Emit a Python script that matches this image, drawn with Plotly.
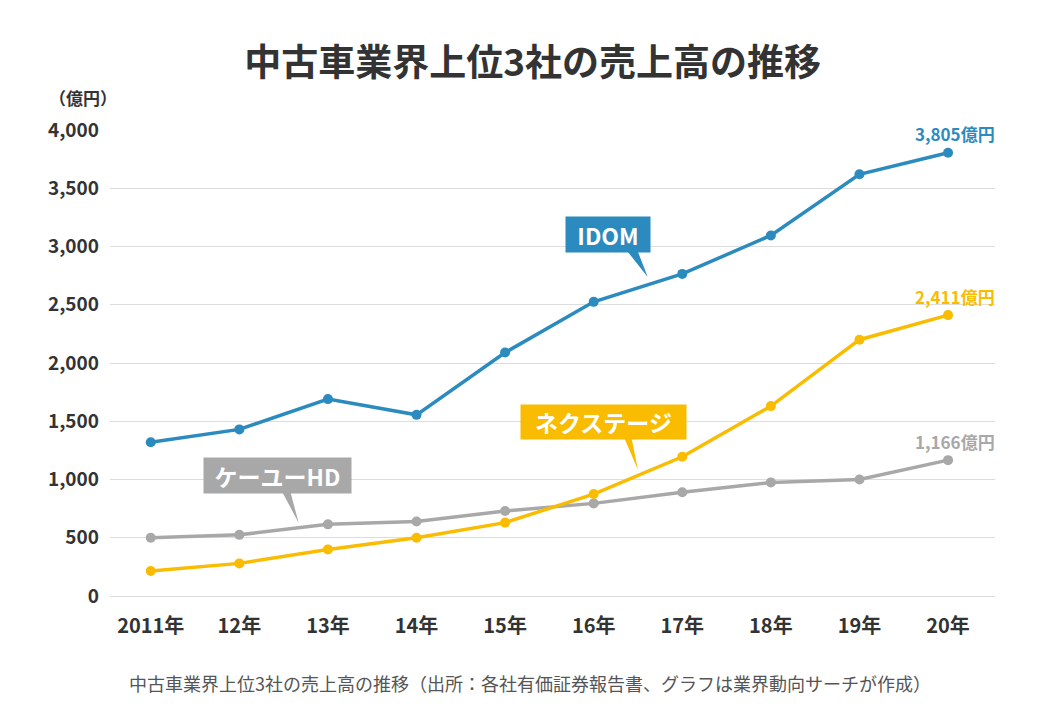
import plotly.graph_objects as go

years = ["2011年", "12年", "13年", "14年", "15年", "16年", "17年", "18年", "19年", "20年"]
idom = [1320, 1430, 1690, 1555, 2090, 2525, 2765, 3095, 3620, 3805]
nextage = [215, 280, 400, 500, 630, 875, 1195, 1630, 2200, 2411]
ku_hd = [500, 525, 615, 640, 730, 795, 890, 975, 1000, 1166]
y_ticks = [0, 500, 1000, 1500, 2000, 2500, 3000, 3500, 4000]
y_tick_labels = ["0", "500", "1,000", "1,500", "2,000", "2,500", "3,000", "3,500", "4,000"]

BLUE = "#2b8bbf"
YELLOW = "#f9bc00"
GRAY = "#a8a8a8"
FONT = "Noto Sans CJK JP, sans-serif"

xs = list(range(len(years)))
fig = go.Figure()
for vals, col, name in [(ku_hd, GRAY, "ケーユーHD"), (nextage, YELLOW, "ネクステージ"), (idom, BLUE, "IDOM")]:
    fig.add_trace(go.Scatter(x=xs, y=vals, mode="lines+markers", name=name,
                             line=dict(color=col, width=3.5),
                             marker=dict(color=col, size=10), showlegend=False,
                             hoverinfo="skip"))

def fmt(v):
    return f"{v:,}億円"

annotations = []
for vals, col in [(idom, BLUE), (nextage, YELLOW), (ku_hd, GRAY)]:
    annotations.append(dict(x=xs[-1], y=vals[-1], xref="x", yref="y", text=f"<b>{fmt(vals[-1])}</b>",
                            showarrow=False, yshift=19, xshift=7,
                            font=dict(family=FONT, size=17, color=col)))

# callout boxes
callouts = [
    ("IDOM", BLUE, 5.16, 3103, 84, 35, [(5.386, 2953), (5.50, 2953), (5.61, 2738)]),
    ("ネクステージ", YELLOW, 5.11, 1494, 165, 34, [(5.35, 1348), (5.43, 1348), (5.50, 1082)]),
    ("ケーユーHD", GRAY, 1.43, 1034, 147, 35, [(1.49, 884), (1.58, 884), (1.67, 627)]),
]
shapes = []
for text, col, cx, cy, w, h, tri in callouts:
    annotations.append(dict(x=cx, y=cy, xref="x", yref="y", text=f"<b>{text}</b>", showarrow=False,
                            bgcolor=col, width=w, height=h, align="center", valign="middle",
                            borderpad=0, font=dict(family=FONT, size=23, color="white")))
    path = f"M {tri[0][0]} {tri[0][1]} L {tri[1][0]} {tri[1][1]} L {tri[2][0]} {tri[2][1]} Z"
    shapes.append(dict(type="path", path=path, xref="x", yref="y", fillcolor=col,
                       line=dict(width=0), layer="above"))

annotations.append(dict(x=-0.031, y=1.0687, xref="paper", yref="paper", text="<b>（億円）</b>", showarrow=False,
                        xanchor="center", yanchor="middle",
                        font=dict(family=FONT, size=17, color="#333")))
annotations.append(dict(x=0.4746, y=-0.1867, xref="paper", yref="paper",
                        text="中古車業界上位3社の売上高の推移（出所：各社有価証券報告書、グラフは業界動向サーチが作成）",
                        showarrow=False, xanchor="center", yanchor="middle",
                        font=dict(family=FONT, size=18, color="#555")))

fig.update_layout(
    width=1062, height=706,
    margin=dict(l=102, r=75, t=122, b=118),
    paper_bgcolor="white", plot_bgcolor="white",
    title=dict(text="<b>中古車業界上位3社の売上高の推移</b>", x=0.494, xanchor="center", y=0.922, yanchor="middle",
               font=dict(family=FONT, size=37, color="#333")),
    xaxis=dict(tickmode="array", tickvals=xs, ticktext=[f"<b>{t}</b>" for t in years],
               range=[-0.46, 9.53], showgrid=False, zeroline=False, showline=False,
               tickfont=dict(family=FONT, size=20, color="#333"), ticks="", ticklabelstandoff=16),
    yaxis=dict(range=[0, 4000], tickmode="array", tickvals=y_ticks,
               ticktext=[f"<b>{t}</b>" for t in y_tick_labels],
               showgrid=True, gridcolor="#dddddd", gridwidth=1, zeroline=True, zerolinecolor="#dddddd",
               zerolinewidth=1, showline=False, ticks="",
               tickfont=dict(family=FONT, size=19, color="#333"), ticklabelstandoff=10),
    annotations=annotations, shapes=shapes,
)
fig.write_html("out.html")
